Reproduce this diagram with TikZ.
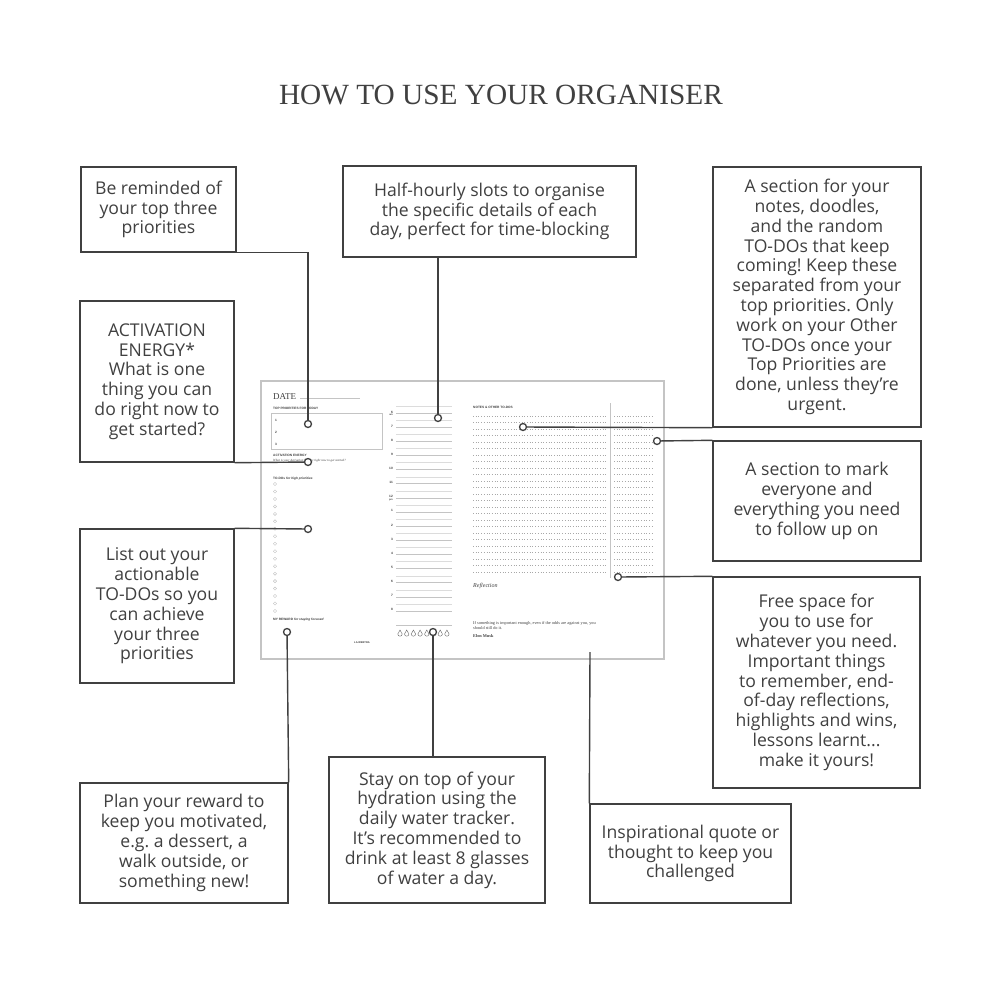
\documentclass[tikz,border=0pt]{standalone}
\usepackage{fontspec}
\setmainfont{Open Sans}
\newfontfamily\titlefont{Liberation Serif}
\newfontfamily\pagesans{Liberation Sans}
\definecolor{ink}{HTML}{404040}
\definecolor{pageline}{HTML}{C4C4C4}
\definecolor{dotc}{HTML}{A8A8A8}
\tikzset{
  box/.style={draw=ink, line width=1.4pt, text=ink, align=center, inner sep=0pt,
    font=\fontsize{17.6}{19.8}\selectfont},
  conn/.style={draw=ink, line width=1.4pt},
  pin/.style={circle, draw=ink, fill=white, line width=1.3pt, inner sep=0pt, minimum size=7pt},
  tiny/.style={anchor=base west, inner sep=0pt, text=ink, font=\pagesans\bfseries\fontsize{3.2}{3.6}\selectfont},
  tinyserif/.style={anchor=base west, inner sep=0pt, text=ink, font=\titlefont\fontsize{4.3}{5}\selectfont},
}
\begin{document}
\frenchspacing
\begin{tikzpicture}[x=1pt,y=-1pt]
\useasboundingbox (0,0) rectangle (1000,999);
\fill[white] (0,0) rectangle (1000,999);

% title
\node[text=ink, font=\titlefont\fontsize{29.3}{31}\selectfont, inner sep=0pt] (title) at (501,95) {HOW TO USE YOUR ORGANISER};

% ---------- organiser page ----------
\filldraw[fill=white, draw=pageline, line width=1.2pt] (261,381) rectangle (664,659);
\node[anchor=base west, inner sep=0pt, text=ink, font=\titlefont\fontsize{9}{9}\selectfont] (date) at (273,399) {DATE};
\draw[pageline, line width=0.4pt] (300,398) -- (360,398);
\node[tiny] (tp) at (273,409) {TOP PRIORITIES FOR TODAY};
\draw[pageline, line width=0.6pt] (271,413) rectangle (382,449);
\foreach \n/\y in {1/421,2/433,3/445} \node[tiny] at (275,\y) {\n};
\node[tiny] (ae) at (273,456) {ACTIVATION ENERGY};
\node[tiny, font=\titlefont\itshape\fontsize{3.2}{3.6}\selectfont] (aeq) at (273,461.5) {What is your Activation Energy right now to get started?};
\draw[ink, line width=0.3pt] (273,462.6) -- (305,462.6);
\node[tiny] (td) at (273,479) {TO-DOs \textit{for high priorities}};
\foreach \i in {0,...,17} {
  \pgfmathsetmacro{\yy}{484+7.47*\i}
  \draw[pageline, line width=0.4pt] (275,\yy-1.6) -- (276.6,\yy) -- (275,\yy+1.6) -- (273.4,\yy) -- cycle;
}
\node[tiny] (rw) at (273,620) {MY REWARD \textit{for staying focused}};
\node[tiny, font=\pagesans\bfseries\fontsize{2.6}{3}\selectfont] (brand) at (354,643) {LA.WEBTRA};

% time column
\foreach \lab [count=\i from 0] in {6,7,8,9,10,11,12,1,2,3,4,5,6,7,8} {
  \pgfmathsetmacro{\yy}{412+14.14*\i}
  \node[tiny, anchor=base east] at (393,\yy+1) {\lab};
  \draw[pageline, line width=0.5pt] (396,\yy+1) -- (452,\yy+1);
  \draw[pageline!60, line width=0.35pt] (396,\yy-6) -- (452,\yy-6);
}
\node[tiny, anchor=base east, font=\pagesans\bfseries\fontsize{2.4}{3}\selectfont] at (393,415.5) {am};
\node[tiny, anchor=base east, font=\pagesans\bfseries\fontsize{2.4}{3}\selectfont] at (393,500.5) {pm};
\draw[pageline, line width=0.5pt] (396,625) -- (452,625);
\foreach \k in {0,...,7} {
  \pgfmathsetmacro{\xx}{400+6.7*\k}
  \draw[ink!80, line width=0.4pt] (\xx,630) -- (\xx-2.2,634) arc (180:0:2.2) -- cycle;
}

% notes section
\node[tiny] (nt) at (473,408) {NOTES \& OTHER TO-DOS};
\foreach \j in {0,...,24} {
  \pgfmathsetmacro{\yy}{416+6.5*\j}
  \draw[dotc, line width=0.5pt, dash pattern=on 0.5pt off 2.2pt] (473,\yy) -- (606,\yy);
  \draw[dotc, line width=0.5pt, dash pattern=on 0.5pt off 2.2pt] (614,\yy) -- (654,\yy);
}
\draw[pageline, line width=0.7pt] (610,403) -- (610,578);
\node[anchor=base west, inner sep=0pt, text=ink, font=\titlefont\itshape\fontsize{6}{6}\selectfont] (refl) at (473,587) {Reflection};
\node[tinyserif] (q1) at (473,624) {If something is important enough, even if the odds are against you, you};
\node[tinyserif] (q2) at (473,629) {should still do it.};
\node[tinyserif, font=\titlefont\bfseries\fontsize{4.3}{5}\selectfont] (q3) at (473,637) {Elon Musk};

% ---------- callout boxes ----------
\node[box, minimum width=155pt, minimum height=85pt] (b1) at (158.5,209.5)
  {Be reminded of\\your top three\\priorities};
\node[box, minimum width=154pt, minimum height=161pt] (b2) at (157,381.5)
  {ACTIVATION\\ENERGY*\\What is one\\thing you can\\do right now to\\get started?};
\node[box, minimum width=293pt, minimum height=91pt] (b3) at (489.5,211.5)
  {Half-hourly slots to organise\\the specific details of each\\day, perfect for time-blocking};
\node[box, minimum width=208pt, minimum height=260pt] (b4) at (817,297)
  {A section for your\\notes, doodles,\\and the random\\TO-DOs that keep\\coming! Keep these\\separated from your\\top priorities. Only\\work on your Other\\TO-DOs once your\\Top Priorities are\\done, unless they’re\\urgent.};
\node[box, minimum width=208pt, minimum height=120pt] (b5) at (817,501)
  {A section to mark\\everyone and\\everything you need\\to follow up on};
\node[box, minimum width=154pt, minimum height=154pt] (b6) at (157,606)
  {List out your\\actionable\\TO-DOs so you\\can achieve\\your three\\priorities};
\node[box, minimum width=208pt, minimum height=120pt] (b7) at (184,843)
  {Plan your reward to\\keep you motivated,\\e.g. a dessert, a\\walk outside, or\\something new!};
\node[box, minimum width=216pt, minimum height=146pt] (b8) at (437,830)
  {Stay on top of your\\hydration using the\\daily water tracker.\\It’s recommended to\\drink at least 8 glasses\\of water a day.};
\node[box, minimum width=201pt, minimum height=99pt] (b9) at (690.5,853.5)
  {Inspirational quote or\\thought to keep you\\challenged};
\node[box, minimum width=207pt, minimum height=211pt] (b10) at (816.5,682.5)
  {Free space for\\you to use for\\whatever you need.\\Important things\\to remember, end-\\of-day reflections,\\highlights and wins,\\lessons learnt...\\make it yours!};

% ---------- connectors ----------
\coordinate (c1) at (308,424);
\coordinate (c2) at (308,462);
\coordinate (c3) at (438,418);
\coordinate (c4) at (523,427);
\coordinate (c5) at (657,441);
\coordinate (c6) at (308,529);
\coordinate (c7) at (287,632);
\coordinate (c8) at (433,632);
\coordinate (c9) at (590,652);
\coordinate (c10) at (618,577);

\draw[conn] (b1.south east) -| (c1);
\draw[conn] (b2.south east) -- (c2);
\draw[conn] (c3 |- b3.south) -- (c3);
\draw[conn] (b4.south west) -- (c4);
\draw[conn] (b5.north west) -- (c5);
\draw[conn] (b6.north east) -- (c6);
\draw[conn] (b7.north east) -- (c7);
\draw[conn] (c8 |- b8.north) -- (c8);
\draw[conn] (b9.north west) -- (c9);
\draw[conn] (b10.north west) -- (c10);

\foreach \c in {c1,c2,c3,c4,c5,c6,c7,c8,c10} \node[pin] at (\c) {};
\end{tikzpicture}
\end{document}
